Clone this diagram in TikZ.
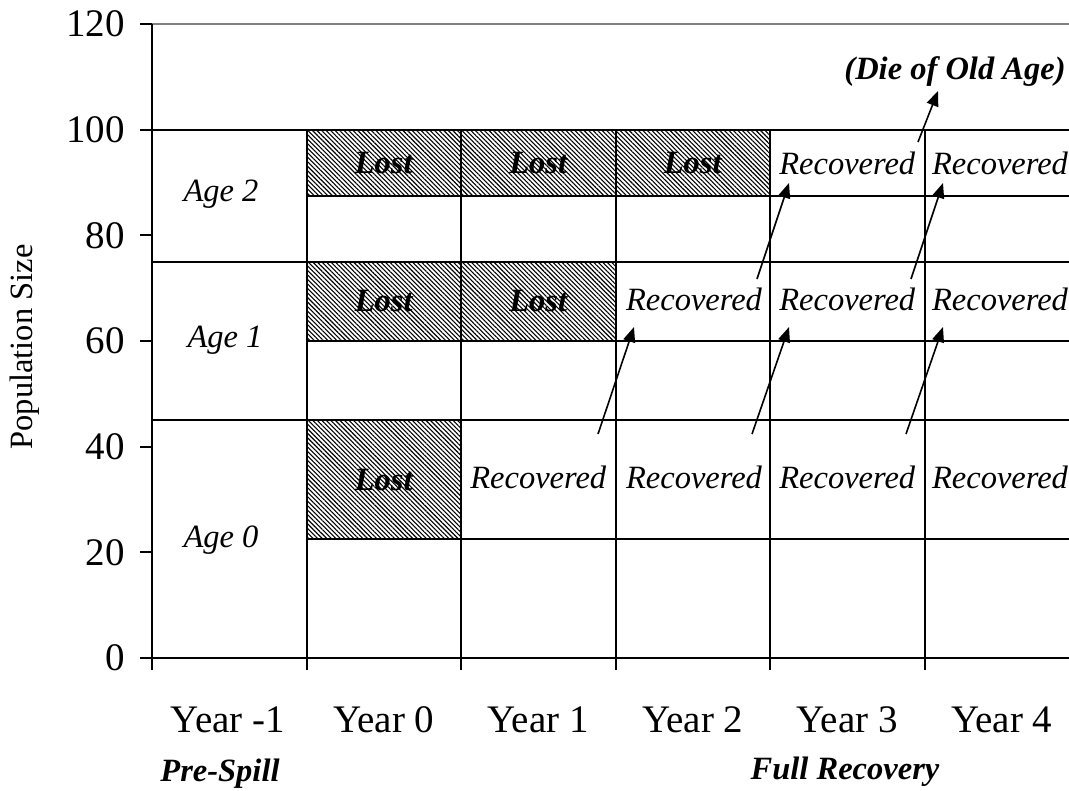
\documentclass[tikz,border=0pt]{standalone}
\usepackage{fontspec}
\setmainfont{Liberation Serif}
\usetikzlibrary{arrows.meta,patterns.meta}
\begin{document}
\begin{tikzpicture}[x=1pt,y=-1pt,
  gridline/.style={line width=2pt},
  lostfill/.style={pattern={Lines[angle=-45,distance=3.2pt,line width=1.1pt]}},
  lbl/.style={font=\fontsize{32.5}{32.5}\selectfont\itshape, inner sep=0pt},
  boldlbl/.style={font=\fontsize{32.5}{32.5}\selectfont\bfseries\itshape, inner sep=0pt},
  ticklbl/.style={font=\fontsize{39}{39}\selectfont, inner sep=0pt, anchor=east},
  yearlbl/.style={font=\fontsize{39}{39}\selectfont, inner sep=0pt, anchor=base},
  arr/.style={line width=1.6pt, -{Triangle[length=15pt,width=12pt]}}]
\useasboundingbox (0,0) rectangle (1069,791);

% hatched "lost" cells
\fill[lostfill] (306.5,129.7) rectangle (770,195.7);
\fill[lostfill] (306.5,261.8) rectangle (615.5,341);
\fill[lostfill] (306.5,420.3) rectangle (461,539.1);

% top border
\draw[line width=2pt, gray] (152,24) -- (1069,24);

% horizontal lines
\draw[gridline] (140,129.7) -- (1069,129.7);
\draw[gridline] (152,261.8) -- (1069,261.8);
\draw[gridline] (152,420.3) -- (1069,420.3);
\draw[gridline] (306.5,195.7) -- (1069,195.7);
\draw[gridline] (306.5,341) -- (1069,341);
\draw[gridline] (306.5,539.1) -- (1069,539.1);

% vertical lines
\foreach \x in {306.5,461,615.5,770,924.5}
  \draw[gridline] (\x,129.7) -- (\x,670);

% axes
\draw[gridline] (152,24) -- (152,670);
\draw[gridline] (152,658) -- (1069,658);
\foreach \y in {24,129.7,235.4,341,446.7,552.3,658}
  \draw[gridline] (140,\y) -- (152,\y);

% tick labels
\node[ticklbl] (t0) at (125,658) {0};
\node[ticklbl] (t20) at (125,552.3) {20};
\node[ticklbl] (t40) at (125,446.7) {40};
\node[ticklbl] (t60) at (125,341) {60};
\node[ticklbl] (t80) at (125,235.4) {80};
\node[ticklbl] (t100) at (125,129.7) {100};
\node[ticklbl] (t120) at (125,24) {120};

\node[font=\fontsize{32.5}{32.5}\selectfont, inner sep=0pt, rotate=90] (ylab) at (25,347) {Population Size};

% year labels
\node[yearlbl] (ym1) at (228,732) {Year -1};
\node[yearlbl] (y0) at (383.75,732) {Year 0};
\node[yearlbl] (y1) at (538.25,732) {Year 1};
\node[yearlbl] (y2) at (692.75,732) {Year 2};
\node[yearlbl] (y3) at (847.25,732) {Year 3};
\node[yearlbl] (y4) at (1001.75,732) {Year 4};

\node[boldlbl, anchor=base] (pre) at (220,781) {Pre-Spill};
\node[boldlbl, anchor=base] (full) at (845,779) {Full Recovery};
\node[boldlbl, anchor=base] (die) at (955,80) {(Die of Old Age)};

% age labels
\node[lbl] (age2) at (221,194) {Age 2};
\node[lbl] (age1) at (225,340) {Age 1};
\node[lbl] (age0) at (221,540) {Age 0};

% lost labels
\node[boldlbl] (l20) at (383.75,162.7) {Lost};
\node[boldlbl] (l21) at (538.25,162.7) {Lost};
\node[boldlbl] (l22) at (692.75,162.7) {Lost};
\node[boldlbl] (l10) at (383.75,301) {Lost};
\node[boldlbl] (l11) at (538.25,301) {Lost};
\node[boldlbl] (l00) at (383.75,480) {Lost};

% recovered labels
\node[lbl] (r23) at (847.25,163) {Recovered};
\node[lbl] (r24) at (1000,163) {Recovered};
\node[lbl] (r12) at (694,299) {Recovered};
\node[lbl] (r13) at (847.25,299) {Recovered};
\node[lbl] (r14) at (1000,299) {Recovered};
\node[lbl] (r01) at (538.25,477) {Recovered};
\node[lbl] (r02) at (694,477) {Recovered};
\node[lbl] (r03) at (847.25,477) {Recovered};
\node[lbl] (r04) at (1000,477) {Recovered};

% arrows
\coordinate (a1s) at (598,434); \coordinate (a1e) at (634,327);
\coordinate (a2s) at (752,434); \coordinate (a2e) at (789,327);
\coordinate (a3s) at (906,434); \coordinate (a3e) at (943,327);
\coordinate (b1s) at (757,279); \coordinate (b1e) at (789,183);
\coordinate (b2s) at (911,279); \coordinate (b2e) at (943,183);
\coordinate (c1s) at (918,142); \coordinate (c1e) at (938,91);
\draw[arr] (a1s) -- (a1e);
\draw[arr] (a2s) -- (a2e);
\draw[arr] (a3s) -- (a3e);
\draw[arr] (b1s) -- (b1e);
\draw[arr] (b2s) -- (b2e);
\draw[arr] (c1s) -- (c1e);
\end{tikzpicture}
\end{document}
